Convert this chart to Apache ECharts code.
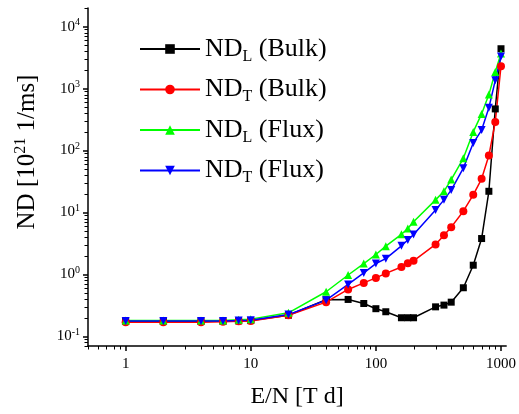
<!DOCTYPE html>
<html>
<head>
<meta charset="utf-8">
<script src="https://cdn.jsdelivr.net/npm/echarts@6/dist/echarts.min.js"></script>
<style>
  html, body { margin: 0; padding: 0; background: #fff; }
  #chart { width: 519px; height: 414px; }
</style>
</head>
<body>
<div id="chart"></div>
<script>
// E/N values [Td]
var fieldValues = [1, 2, 4, 6, 8, 10, 20, 40, 60, 80, 100, 120, 160, 180, 200, 300, 350, 400, 500, 600, 700, 800, 900, 1000];

// ND [10^21 1/ms]
var ndLBulk = [0.175, 0.175, 0.175, 0.175, 0.178, 0.18, 0.22, 0.39, 0.395, 0.34, 0.28, 0.25, 0.2, 0.2, 0.2, 0.3, 0.32, 0.357, 0.61, 1.41, 3.8, 22, 470, 4400];
var ndTBulk = [0.17, 0.17, 0.17, 0.172, 0.175, 0.178, 0.22, 0.357, 0.573, 0.73, 0.88, 1.04, 1.32, 1.52, 1.66, 3.05, 4.3, 5.8, 10.5, 19.3, 35, 83, 290, 2300];
var ndLFlux = [0.18, 0.18, 0.18, 0.18, 0.185, 0.19, 0.24, 0.526, 0.98, 1.5, 2.1, 2.86, 4.45, 5.5, 7.1, 16, 22, 34, 75, 200, 390, 800, 1850, 3700];
var ndTFlux = [0.177, 0.177, 0.177, 0.177, 0.18, 0.183, 0.225, 0.385, 0.69, 1.06, 1.5, 1.8, 2.9, 3.6, 4.4, 11, 16, 23, 52, 132, 214, 490, 1360, 3300];

var xMajor = [1, 10, 100, 1000];
var yMajor = [0.1, 1, 10, 100, 1000, 10000];
var xRange = [0.5, 1100];
var yRange = [0.07, 20000];

var serif = 'Liberation Serif';

function pairs(ys) {
    return fieldValues.map(function (x, i) { return [x, ys[i]]; });
}

// 2..9 x 10^k inside a range (minor tick values)
function minorValues(range) {
    var out = [];
    for (var p = 0.001; p <= range[1]; p *= 10) {
        for (var k = 2; k <= 9; k++) {
            var v = +(k * p).toPrecision(3);
            if (v >= range[0] && v <= range[1]) out.push(v);
        }
    }
    return out;
}

var myChart = echarts.init(document.getElementById('chart'));

option = {
    animation: false,
    backgroundColor: '#fff',
    grid: { left: 88, right: 12, top: 8, bottom: 68 },
    legend: {
        orient: 'vertical',
        left: 134,
        top: 31,
        itemWidth: 60,
        itemHeight: 12,
        itemGap: 12,
        formatter: function (name) {
            var p = name.split('|');
            return '{n|ND}{s|' + p[0] + '}{n| (' + p[1] + ')}';
        },
        textStyle: {
            rich: {
                n: { fontFamily: serif, fontSize: 26, color: '#000' },
                s: { fontFamily: serif, fontSize: 16, color: '#000', verticalAlign: 'bottom', padding: [15, 0, 0, 0] }
            }
        }
    },
    xAxis: {
        type: 'log', min: xRange[0], max: xRange[1],
        name: 'E/N [T d]', nameLocation: 'middle', nameGap: 39,
        nameTextStyle: { fontFamily: serif, fontSize: 24, color: '#000' },
        axisLine: { lineStyle: { color: '#000', width: 1.5 } },
        axisTick: { length: 5, lineStyle: { width: 1.5 }, customValues: xMajor },
        axisLabel: {
            customValues: xMajor, fontFamily: serif, fontSize: 15, color: '#000', margin: 11,
            formatter: function (v) { return String(Math.round(v)); }
        },
        splitLine: { show: false }
    },
    yAxis: {
        type: 'log', min: yRange[0], max: yRange[1],
        name: 'ND [10{sup|21} 1/ms]', nameLocation: 'middle', nameGap: 47,
        nameTextStyle: {
            fontFamily: serif, fontSize: 25, color: '#000',
            padding: [0, 0, 0, 50],
            rich: { sup: { fontFamily: serif, fontSize: 16, color: '#000', verticalAlign: 'top', padding: [0, 0, 12, 0] } }
        },
        axisLine: { lineStyle: { color: '#000', width: 1.5 } },
        axisTick: { length: 5, lineStyle: { width: 1.5 }, customValues: yMajor },
        axisLabel: {
            customValues: yMajor, margin: 8,
            formatter: function (v) {
                return '{b|10}{e|' + Math.round(Math.log10(v)) + '}';
            },
            rich: {
                b: { fontFamily: serif, fontSize: 15, color: '#000' },
                e: { fontFamily: serif, fontSize: 10, color: '#000', verticalAlign: 'top', padding: [0, 0, 8, 0] }
            }
        },
        splitLine: { show: false }
    },
    series: [
        {
            name: 'L|Bulk', type: 'line', data: pairs(ndLBulk),
            color: '#000000', symbol: 'rect', symbolSize: 7,
            lineStyle: { width: 1.5 }
        },
        {
            name: 'T|Bulk', type: 'line', data: pairs(ndTBulk),
            color: '#ff0000', symbol: 'circle', symbolSize: 8,
            lineStyle: { width: 1.5 }
        },
        {
            name: 'L|Flux', type: 'line', data: pairs(ndLFlux),
            color: '#00ff00', symbol: 'triangle', symbolSize: 8,
            lineStyle: { width: 1.5 }
        },
        {
            name: 'T|Flux', type: 'line', data: pairs(ndTFlux),
            color: '#0000ff', symbol: 'triangle', symbolRotate: 180, symbolSize: 8,
            lineStyle: { width: 1.5 }
        }
    ]
};

myChart.setOption(option, true);

// minor ticks (2..9 per decade), placed through the axes' own scales
var axisX = myChart.convertToPixel({ xAxisIndex: 0 }, xRange[0]);
var axisY = myChart.convertToPixel({ yAxisIndex: 0 }, yRange[0]);
var minorTicks = [];
minorValues(xRange).forEach(function (v) {
    var px = Math.round(myChart.convertToPixel({ xAxisIndex: 0 }, v)) + 0.5;
    minorTicks.push({ type: 'line', silent: true, shape: { x1: px, y1: axisY, x2: px, y2: axisY + 3.5 }, style: { stroke: '#000', lineWidth: 1 } });
});
minorValues(yRange).forEach(function (v) {
    var py = Math.round(myChart.convertToPixel({ yAxisIndex: 0 }, v)) + 0.5;
    minorTicks.push({ type: 'line', silent: true, shape: { x1: axisX - 3.5, y1: py, x2: axisX, y2: py }, style: { stroke: '#000', lineWidth: 1 } });
});
myChart.setOption({ graphic: minorTicks });
</script>
</body>
</html>
